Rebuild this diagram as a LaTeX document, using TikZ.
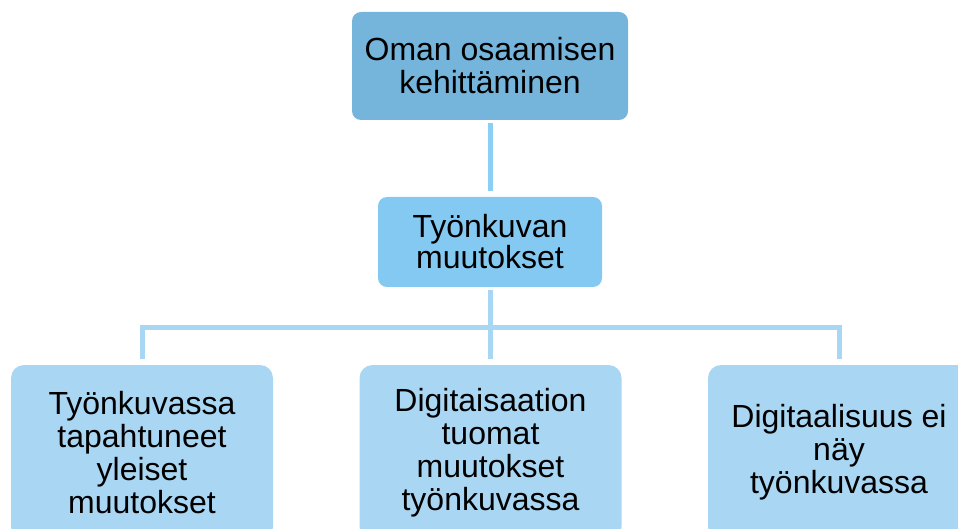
\documentclass[tikz,border=0pt]{standalone}
\usepackage{fontspec}
\setmainfont{Liberation Sans}
\definecolor{topfill}{HTML}{75B4DB}
\definecolor{midfill}{HTML}{83C9F1}
\definecolor{lowfill}{HTML}{A8D6F3}
\definecolor{linkA}{HTML}{8CCFF4}
\definecolor{linkB}{HTML}{A8D7F4}
\begin{document}
\begin{tikzpicture}[x=1pt,y=-1pt,
  box/.style={inner sep=0pt, align=center, font=\fontsize{32}{33}\selectfont},
  topbox/.style={box, fill=topfill, rounded corners=9pt, minimum width=276pt, minimum height=108pt},
  midbox/.style={box, fill=midfill, rounded corners=9pt, minimum width=224pt, minimum height=90pt,
    font=\fontsize{32}{31}\selectfont},
  lowbox/.style={box, fill=lowfill, rounded corners=13pt, minimum width=262pt, minimum height=175pt},
  link/.style={line width=5pt, color=#1},
]
\useasboundingbox (0,0) rectangle (958,529);
\clip (0,0) rectangle (958,529);

\node[topbox] (top) at (490,66) {Oman osaamisen\\kehittäminen};
\node[midbox] (mid) at (490,242) {Työnkuvan\\muutokset};
\node[lowbox] (b1) at (142,452.5) {Työnkuvassa\\tapahtuneet\\yleiset\\muutokset};
\node[lowbox] (b2) at (490.5,452.5) {Digitaisaation\\tuomat\\muutokset\\työnkuvassa};
\node[lowbox] (b3) at (839,452.5) {Digitaalisuus ei\\näy\\työnkuvassa};

\coordinate (j) at (490,327);

% connectors
\draw[link=linkA, shorten <=3pt, shorten >=6pt] (top) -- (mid);
\draw[link=linkB, shorten <=3pt, shorten >=6pt] (mid.south) -- (mid.south |- b2.north);
\draw[link=linkB, shorten <=6pt, shorten >=6pt]
  (b1.north) -- (b1.north |- j) -- (b3.north |- j) -- (b3.north);
\end{tikzpicture}
\end{document}
